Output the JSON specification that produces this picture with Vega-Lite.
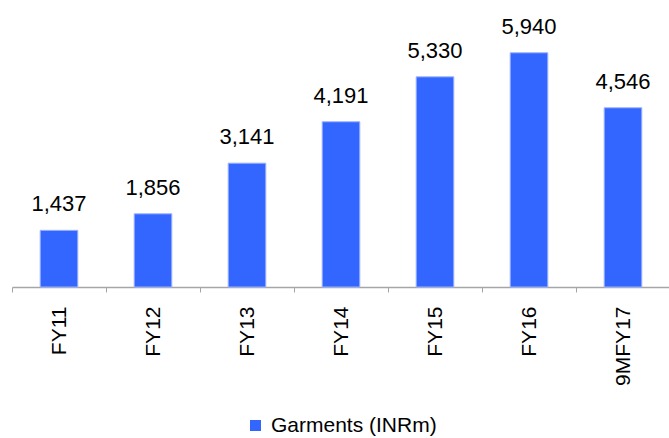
{
  "$schema": "https://vega.github.io/schema/vega-lite/v6.json",
  "width": 658,
  "height": 276,
  "autosize": {"type": "none"},
  "padding": {"left": 12, "top": 11, "right": 0, "bottom": 151},
  "background": "white",
  "config": {
    "view": {"stroke": null},
    "font": "Liberation Sans",
    "text": {"font": "Liberation Sans"},
    "axis": {"labelFont": "Liberation Sans"},
    "legend": {"labelFont": "Liberation Sans"}
  },
  "data": {
    "values": [
      {"year": "FY11", "value": 1437, "series": "Garments (INRm)"},
      {"year": "FY12", "value": 1856, "series": "Garments (INRm)"},
      {"year": "FY13", "value": 3141, "series": "Garments (INRm)"},
      {"year": "FY14", "value": 4191, "series": "Garments (INRm)"},
      {"year": "FY15", "value": 5330, "series": "Garments (INRm)"},
      {"year": "FY16", "value": 5940, "series": "Garments (INRm)"},
      {"year": "9MFY17", "value": 4546, "series": "Garments (INRm)"}
    ]
  },
  "encoding": {
    "x": {
      "field": "year",
      "type": "nominal",
      "sort": null,
      "scale": {"paddingInner": 0, "paddingOuter": 0},
      "axis": {
        "title": null,
        "labelAngle": -90,
        "labelFontSize": 21,
        "labelColor": "#000000",
        "labelPadding": 14,
        "tickBand": "extent",
        "tickSize": 5,
        "tickColor": "#A6A6A6",
        "domainColor": "#A6A6A6",
        "domainWidth": 1.5
      }
    },
    "y": {
      "field": "value",
      "type": "quantitative",
      "scale": {"domain": [0, 7000], "nice": false},
      "axis": null
    }
  },
  "layer": [
    {
      "mark": {"type": "bar", "width": {"band": 0.4}, "stroke": "#9DB3FF", "strokeWidth": 1},
      "encoding": {
        "color": {
          "field": "series",
          "type": "nominal",
          "scale": {"range": ["#3366FF"]},
          "legend": {
            "title": null,
            "orient": "none",
            "legendX": 233,
            "legendY": 404,
            "padding": 0,
            "direction": "horizontal",
            "symbolType": "square",
            "symbolSize": 121,
            "symbolStrokeWidth": 0,
            "symbolOffset": 0,
            "labelOffset": 5,
            "labelFontSize": 21,
            "labelColor": "#000000",
            "labelLimit": 400
          }
        }
      }
    },
    {
      "mark": {"type": "text", "baseline": "alphabetic", "dy": -19, "fontSize": 22, "color": "#000000", "font": "Liberation Sans"},
      "encoding": {
        "text": {"field": "value", "type": "quantitative", "format": ","}
      }
    }
  ]
}
